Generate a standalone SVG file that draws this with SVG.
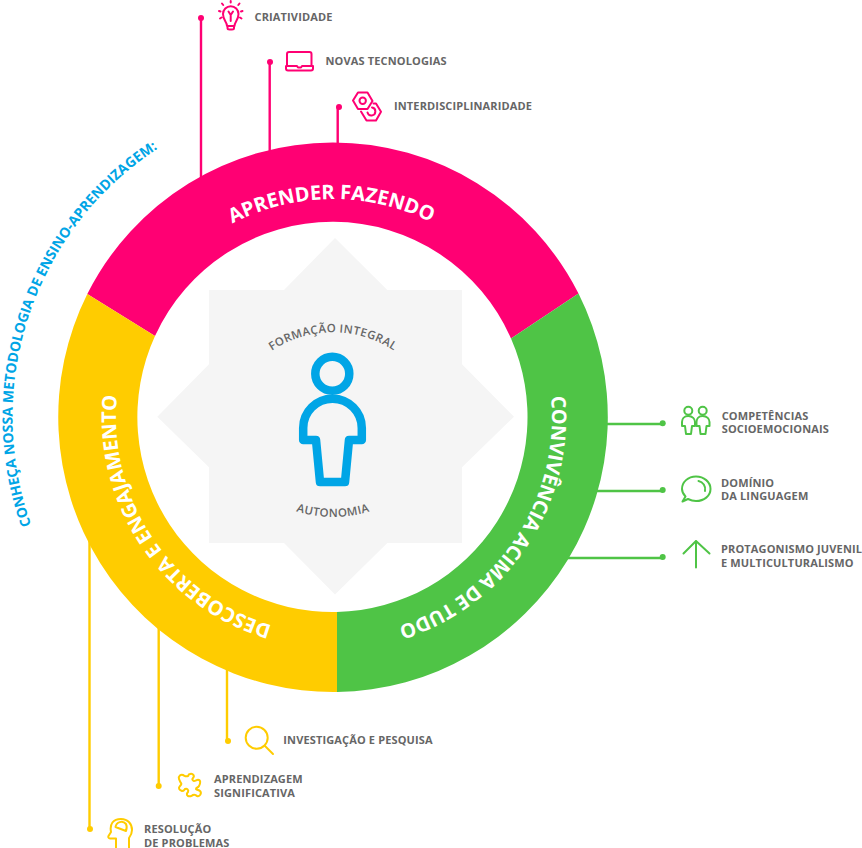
<svg xmlns="http://www.w3.org/2000/svg" width="862" height="848" viewBox="0 0 862 848">
<style>
text{font-family:"Open Sans","Noto Sans","Liberation Sans",sans-serif;font-weight:700}
.lb{font-size:11px;fill:#666;letter-spacing:.14px}
.rt{font-size:20px;fill:#fff}
.ct{font-size:11.5px;fill:#666;font-weight:600;letter-spacing:.4px}
.p{stroke:#ff0073}.g{stroke:#4fc446}.y{stroke:#ffcc00}
.pf{fill:#ff0073}.gf{fill:#4fc446}.yf{fill:#ffcc00}
.ln{fill:none;stroke-width:2.4}
.ic{fill:none;stroke-width:2;stroke-linecap:round;stroke-linejoin:round}
</style>
<defs>
<path id="a-top" d="M115 417A218 218 0 0 1 551 417"/>
<path id="a-right" d="M333 198A219 219 0 0 1 333 636"/>
<path id="a-left" d="M333 634A217 217 0 0 1 333 200"/>
<path id="a-head" d="M333 737.500A320.500 320.500 0 0 1 333 96.500"/>
<path id="a-form" d="M222.300 443A110.700 110.700 0 0 1 443.700 443"/>
<path id="a-auto" d="M213 397A120 120 0 0 0 453 397"/>
</defs>
<g id="connectors">
<path class="ln p" d="M201 18V185M269.700 62V160M337.700 107V150"/>
<path class="ln g" d="M600 424H663M590 491H663M560 558H663"/>
<path class="ln y" d="M89.500 530V829M158.700 620V786M227 660V741"/>
<g class="pf"><circle cx="201" cy="18" r="3"/><circle cx="270" cy="62" r="3"/><circle cx="339" cy="107" r="3"/></g>
<g class="gf"><circle cx="662.700" cy="423.300" r="3"/><circle cx="662.700" cy="490" r="3"/><circle cx="662.700" cy="557" r="3"/></g>
<g class="yf"><circle cx="90" cy="829" r="3"/><circle cx="158.700" cy="786" r="3"/><circle cx="228" cy="741" r="3"/></g>
</g>
<g id="ring-aprender">
<path class="pf" d="M87.300 294A275 275 0 0 1 578.500 293.500L511 338.500A195 195 0 0 0 155 336Z"/>
<text class="rt" transform="rotate(-.4 333 417)"><textPath href="#a-top" startOffset="50%" text-anchor="middle">APRENDER FAZENDO</textPath></text>
</g>
<g id="ring-convivencia">
<path class="gf" d="M337 692A275 275 0 0 0 578.500 293.500L511 338.500A195 195 0 0 1 337 612Z"/>
<text class="rt" transform="rotate(33.600 333 417)" letter-spacing="-.2"><textPath href="#a-right" startOffset="50%" text-anchor="middle">CONVIVÊNCIA ACIMA DE TUDO</textPath></text>
</g>
<g id="ring-descoberta">
<path class="yf" d="M87.300 294A275 275 0 0 0 337 692V612A195 195 0 0 1 155 336Z"/>
<text class="rt" transform="rotate(-34 333 417)"><textPath href="#a-left" startOffset="50%" text-anchor="middle">DESCOBERTA E ENGAJAMENTO</textPath></text>
</g>
<g id="heading">
<text font-size="14" fill="#00a5e6" transform="rotate(18.600 333 417)"><textPath href="#a-head" startOffset="50%" text-anchor="middle">CONHEÇA NOSSA METODOLOGIA DE ENSINO-APRENDIZAGEM:</textPath></text>
</g>
<g id="center">
<path fill="#f5f5f5" d="M335 238L387.300 290H462V364.300L514 416.700L462 467.300V543H387.300L335 594.500L284 543H209V467.300L157.300 416.700L209 364.300V290H284Z"/>
<text class="ct"><textPath href="#a-form" startOffset="50%" text-anchor="middle">FORMAÇÃO INTEGRAL</textPath></text>
<text class="ct"><textPath href="#a-auto" startOffset="50%" text-anchor="middle">AUTONOMIA</textPath></text>
<circle cx="332.300" cy="373.700" r="17" fill="none" stroke="#00a5e6" stroke-width="8.500"/>
<path fill="none" stroke="#00a5e6" stroke-width="8.500" stroke-linejoin="round" d="M303.200 428A29.300 29.300 0 0 1 361.800 428V440H349L345 482H320L316 440H303.200Z"/>
</g>
<g id="n-criatividade">
<g class="ic p" stroke-width="1.800"><path d="M227 26C227 22 223 20 223 14A7.700 7.700 0 0 1 238.500 14C238.500 20 234.500 22 234.500 26ZM227.500 26V28Q227.500 29.500 229.500 29.500H232Q234 29.500 234 28V26M228.500 11.500L230.700 15L233 11.500M230.700 15V21M230.700 1V2.500M222 3.500L223.200 5M239.500 3.500L238.300 5M219 11L220.500 11.500M242.500 11L241 11.500M220 18.500L221.500 17.500M241.500 18.500L240 17.500"/></g>
<text class="lb" x="254.500" y="21">CRIATIVIDADE</text>
</g>
<g id="n-tecnologias">
<g class="ic p"><path d="M287 66V54Q287 52 289 52H309.500Q311.500 52 311.500 54V66M286 66H297L298 67.500H301L302 66H313V68.500Q313 70.500 311 70.500H288Q286 70.500 286 68.500Z"/></g>
<text class="lb" x="325.500" y="65">NOVAS TECNOLOGIAS</text>
</g>
<g id="n-interdisciplinaridade">
<g class="ic p"><path d="M353 100.500L358 92.500H367.500L372.500 101L367.500 109H358Z"/><circle cx="362.700" cy="100.700" r="3.200"/><path d="M373.500 103.500H376L381 111.700L376 120.500H366.500L361 111.500"/><path d="M372 107.500A4 4 0 1 1 367.500 112.500"/></g>
<text class="lb" x="394" y="110">INTERDISCIPLINARIDADE</text>
</g>
<g id="n-competencias">
<g class="ic g" stroke-width="1.700"><circle cx="688.300" cy="410.700" r="4"/><circle cx="702.700" cy="410.700" r="4"/><path d="M688.300 416C684 416 682 419 682 422V426H685L686 434H691L692 426H695V422C695 419 692.500 416 688.300 416Z"/><path d="M702.700 416C698.500 416 696.500 419 696.500 422V426H699.500L700.500 434H705.500L706.500 426H709.500V422C709.500 419 707 416 702.700 416Z"/></g>
<text class="lb" x="721.700" y="420">COMPETÊNCIAS</text>
<text class="lb" x="721.700" y="433.300">SOCIOEMOCIONAIS</text>
</g>
<g id="n-linguagem">
<g class="ic g"><path d="M682.500 501.500L685.500 496.500C683 494 682 491.500 682 489C682 482 688 476.500 696 476.500S710.500 482 710.500 489S704 501 696 501C692.500 501 690 500 688 499Z"/><path d="M698.500 481C703 482 706 486 705 491"/></g>
<text class="lb" x="721" y="487">DOMÍNIO</text>
<text class="lb" x="721" y="500.300">DA LINGUAGEM</text>
</g>
<g id="n-protagonismo">
<g class="ic g" stroke-width="1.800"><path d="M696 567.500V541M683.500 553.500L696 541L709.500 553.500"/></g>
<text class="lb" x="721" y="553.300">PROTAGONISMO JUVENIL</text>
<text class="lb" x="721" y="567">E MULTICULTURALISMO</text>
</g>
<g id="n-investigacao">
<g class="ic y"><circle cx="256.700" cy="737.700" r="11"/><path d="M265 746L273 754"/></g>
<text class="lb" x="283.300" y="744">INVESTIGAÇÃO E PESQUISA</text>
</g>
<g id="n-aprendizagem">
<g class="ic y"><path d="M179 779C178 776 181 774 183 775C185 776 186 777 188 776C189 775 188 774 190 774C193 773 195 776 193 778C192 779 192 780 194 781C196 781 197 779 199 780C201 781 200 784 199 786C198 788 196 787 196 789C197 790 199 790 200 791C202 793 200 797 197 796C195 795 195 794 193 795C191 796 190 797 188 796C186 795 187 793 188 792C189 790 187 788 185 789C184 790 184 791 182 791C179 790 178 788 180 786C181 785 182 784 181 783C180 782 180 781 179 779Z"/></g>
<text class="lb" x="214" y="783.300">APRENDIZAGEM</text>
<text class="lb" x="214" y="797">SIGNIFICATIVA</text>
</g>
<g id="n-resolucao">
<g class="ic y"><path d="M116 848V838.500H110C108.500 838.500 108 837 108.500 836L111 832C109.500 824 113 819 121 819C128 819 132 824 132 830C132 834 130.500 836 129 838V848"/><path d="M115.500 827A6 6 0 0 1 126 824C127 826 127 828 126 831Z"/></g>
<text class="lb" x="144" y="833">RESOLUÇÃO</text>
<text class="lb" x="144" y="846.500">DE PROBLEMAS</text>
</g>
</svg>
